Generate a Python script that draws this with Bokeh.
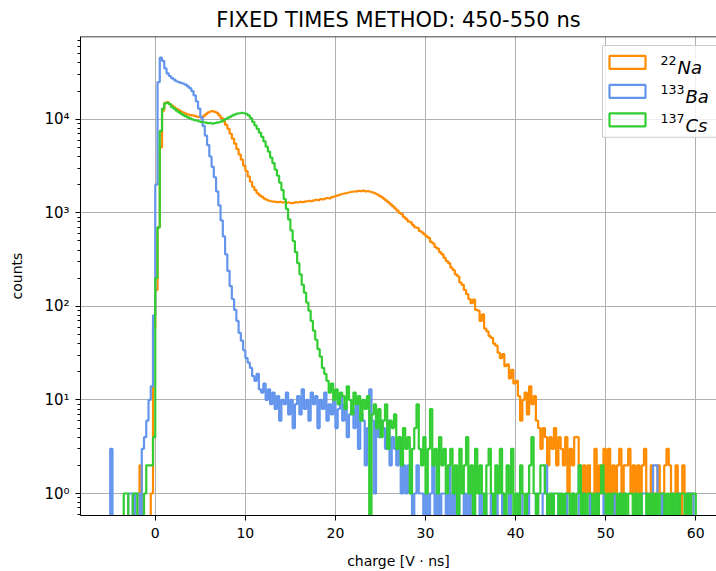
import numpy as np
from bokeh.plotting import figure
from bokeh.models import (Range1d, FixedTicker, CustomJSTickFormatter, Label,
                          BoxAnnotation, Span)
from bokeh.embed import file_html
from bokeh.resources import INLINE

# ---------------- data ----------------
BIN_START = -5.0
BIN_WIDTH = 0.25
N_BINS = 260

TITLE = "FIXED TIMES METHOD: 450-550 ns"
X_LABEL = "charge [V · ns]"
Y_LABEL = "counts"
X_TICKS = [0, 10, 20, 30, 40, 50, 60]
Y_TICKS = [1, 10, 100, 1000, 10000]

SERIES_NAMES = ["Na", "Ba", "Cs"]
SERIES_MASS = ["22", "133", "137"]

na_counts = [
    0, 0, 0, 0, 0, 0, 0, 0, 0, 0, 0, 0, 0, 2, 0, 0, 0, 0, 1, 60,
    150, 700, 5000, 12400, 15000, 15300, 14500, 14000, 13400, 12900, 12500, 12100, 11800, 11500, 11300, 11100, 11000, 10900, 10700, 10600,
    10500, 10800, 11300, 11800, 12100, 12200, 12000, 11700, 11000, 10300, 9500, 8700, 7900, 7000, 6200, 5500, 4800, 4200, 3700, 3200,
    2800, 2450, 2150, 1900, 1750, 1620, 1540, 1480, 1420, 1380, 1350, 1330, 1320, 1310, 1300, 1310, 1290, 1300, 1280, 1290,
    1270, 1280, 1300, 1290, 1310, 1300, 1320, 1330, 1340, 1330, 1360, 1380, 1370, 1400, 1390, 1420, 1440, 1430, 1470, 1490,
    1520, 1550, 1580, 1600, 1620, 1640, 1660, 1680, 1690, 1700, 1720, 1710, 1730, 1700, 1710, 1680, 1660, 1620, 1580, 1530,
    1480, 1420, 1360, 1300, 1240, 1180, 1120, 1060, 1000, 970, 900, 860, 810, 790, 740, 700, 690, 640, 620, 590,
    560, 540, 490, 470, 430, 415, 380, 360, 330, 305, 290, 260, 245, 220, 210, 180, 170, 150, 135, 120,
    108, 118, 92, 90, 70, 82, 58, 54, 48, 46, 40, 38, 32, 28, 31, 23, 24, 17, 21, 15,
    16, 11, 6, 10, 12, 7, 14, 9, 11, 6, 5, 3, 5, 4, 2, 4, 3, 5, 2, 4,
    3, 2, 4, 1, 3, 2, 4, 4, 2, 1, 2, 1, 2, 0, 1, 3, 1, 2, 1, 3,
    1, 3, 1, 2, 0, 2, 3, 1, 2, 2, 3, 1, 2, 0, 2, 1, 2, 3, 1, 0,
    2, 1, 0, 2, 1, 0, 2, 3, 2, 0, 1, 2, 1, 0, 2, 1, 0, 1, 0, 0,
]

ba_counts = [
    3, 0, 0, 0, 0, 0, 0, 0, 1, 1, 0, 1, 1, 0, 3, 4, 6, 10, 14, 80,
    2000, 25000, 45500, 42000, 35000, 31000, 29000, 27500, 26500, 25500, 25000, 24500, 24000, 23500, 22500, 21500, 20000, 18000, 15500, 13000,
    10500, 8500, 6700, 5300, 4000, 3100, 2400, 1700, 1200, 830, 560, 360, 240, 165, 120, 92, 70, 52, 43, 34,
    28, 25, 22, 18, 16, 19, 13, 12, 15, 10, 13, 9, 12, 8, 11, 6, 10, 9, 12, 7,
    10, 5, 9, 11, 7, 13, 8, 10, 6, 12, 9, 11, 5, 10, 8, 12, 6, 9, 7, 10,
    5, 8, 11, 6, 9, 4, 7, 8, 5, 9, 3, 7, 6, 2, 5, 13, 6, 1, 7, 4,
    6, 5, 3, 6, 2, 4, 3, 2, 4, 1, 2, 1, 2, 1, 0, 1, 2, 1, 1, 0,
    1, 0, 1, 2, 0, 1, 0, 1, 1, 0, 2, 0, 1, 0, 1, 0, 0, 1, 0, 1,
    0, 1, 0, 0, 1, 0, 1, 0, 0, 1, 0, 1, 0, 0, 1, 0, 0, 1, 0, 0,
    0, 1, 1, 0, 0, 1, 0, 0, 0, 1, 0, 0, 1, 2, 0, 0, 1, 0, 0, 1,
    0, 0, 1, 0, 0, 1, 0, 0, 2, 1, 0, 0, 0, 1, 0, 0, 1, 0, 0, 1,
    0, 0, 0, 1, 0, 0, 1, 0, 1, 0, 0, 0, 0, 1, 0, 0, 1, 1, 1, 0,
    1, 2, 2, 0, 0, 1, 0, 0, 0, 1, 0, 0, 1, 0, 0, 0, 1, 1, 1, 0,
]

cs_counts = [
    0, 0, 0, 0, 0, 0, 1, 1, 0, 0, 1, 1, 0, 0, 0, 1, 2, 2, 2, 4,
    200, 700, 7500, 13000, 14800, 15000, 14500, 13500, 13000, 12400, 11900, 11500, 11100, 10800, 10500, 10200, 10000, 9800, 9700, 9500,
    9400, 9300, 9200, 9100, 9100, 9000, 9100, 9200, 9300, 9500, 9800, 10100, 10400, 10700, 11000, 11300, 11500, 11600, 11700, 11600,
    11400, 11000, 10300, 9400, 8600, 7900, 7200, 6500, 5800, 5100, 4500, 3900, 3400, 2900, 2500, 2100, 1750, 1400, 1100, 850,
    650, 500, 380, 290, 220, 170, 140, 110, 90, 70, 55, 44, 35, 29, 22, 19, 16, 12, 15, 10,
    13, 9, 12, 11, 8, 14, 10, 7, 12, 9, 11, 6, 10, 8, 11, 0, 7, 9, 5, 8,
    4, 6, 9, 3, 6, 5, 7, 3, 4, 2, 5, 3, 4, 1, 3, 5, 9, 3, 2, 4,
    1, 3, 8, 2, 3, 1, 4, 2, 3, 1, 2, 3, 1, 2, 0, 3, 1, 2, 4, 1,
    2, 0, 3, 1, 2, 1, 0, 2, 3, 1, 0, 2, 1, 3, 1, 0, 2, 1, 3, 0,
    1, 0, 2, 1, 0, 1, 2, 4, 1, 0, 1, 2, 2, 1, 0, 1, 0, 1, 1, 0,
    1, 0, 1, 1, 0, 1, 0, 1, 2, 0, 1, 0, 1, 1, 0, 1, 0, 1, 2, 1,
    0, 1, 0, 1, 1, 0, 1, 0, 1, 0, 1, 1, 0, 1, 0, 1, 0, 0, 1, 0,
    1, 0, 1, 0, 1, 1, 0, 1, 0, 1, 0, 1, 0, 1, 1, 0, 1, 0, 1, 1,
]

COLORS = ["#ff8c00", "#6495ed", "#32cd32"]

# ---------------- layout geometry ----------------
W, H = 716, 571
FL, FR, FT, FB = 80, 716, 36, 516
X0, X1 = -8.3, 62.3
Y0, Y1 = 0.582, 76700.0
FLOOR = 1e-3  # zero-count bins fall below the visible log range


def px2x(px):
    return X0 + (px - FL) / (FR - FL) * (X1 - X0)


def py2y(py):
    l0, l1 = np.log10(Y0), np.log10(Y1)
    return 10 ** (l1 - (py - FT) / (FB - FT) * (l1 - l0))


FONT = "DejaVu Sans"

p = figure(width=W, height=H, y_axis_type="log",
           x_range=Range1d(X0, X1), y_range=Range1d(Y0, Y1),
           output_backend="svg", toolbar_location=None,
           min_border_left=FL, min_border_right=W - FR,
           min_border_top=FT, min_border_bottom=H - FB,
           title=TITLE)
p.background_fill_color = "white"
p.border_fill_color = "white"
p.outline_line_color = None

p.title.text_font = FONT
p.title.text_font_size = "21px"
p.title.text_font_style = "normal"
p.title.align = "center"
p.title.text_color = "black"

# axes
p.xaxis.ticker = FixedTicker(ticks=X_TICKS)
minor = [k * 10.0 ** d for d in range(-1, 5) for k in range(2, 10)]
p.yaxis.ticker = FixedTicker(ticks=Y_TICKS, minor_ticks=minor)
p.yaxis.formatter = CustomJSTickFormatter(code="""
const e = Math.round(Math.log10(tick));
const sup = {"0":"\u2070","1":"\u00b9","2":"\u00b2","3":"\u00b3","4":"\u2074",
             "5":"\u2075","6":"\u2076","7":"\u2077","8":"\u2078","9":"\u2079","-":"\u207b"};
return "10" + String(e).split("").map(c => sup[c]).join("");
""")

for ax in (p.xaxis, p.yaxis):
    ax.axis_line_color = "black"
    ax.axis_line_width = 1
    ax.major_tick_line_color = "black"
    ax.major_tick_line_width = 1
    ax.major_tick_out = 5
    ax.major_tick_in = 0
    ax.major_label_text_font = FONT
    ax.major_label_text_font_size = "14px"
    ax.major_label_text_color = "black"
    ax.axis_label_text_font = FONT
    ax.axis_label_text_font_size = "14px"
    ax.axis_label_text_font_style = "normal"
    ax.axis_label_text_color = "black"

p.yaxis.major_label_text_font_size = "15px"
p.xaxis.minor_tick_line_color = None
p.yaxis.minor_tick_line_color = "black"
p.yaxis.minor_tick_out = 3
p.yaxis.minor_tick_in = 0
p.xaxis.major_label_standoff = 7
p.yaxis.major_label_standoff = 6
p.xaxis.axis_label = X_LABEL
p.yaxis.axis_label = Y_LABEL
p.xaxis.axis_label_standoff = 12
p.yaxis.axis_label_standoff = 16

p.grid.grid_line_color = "#b0b0b0"
p.grid.grid_line_width = 1

# top spine
p.add_layout(Span(location=Y1, dimension="width", line_color="black", line_width=1.5))

# step histograms
edges = BIN_START + BIN_WIDTH * np.arange(N_BINS + 1)
for counts, color in zip([na_counts, ba_counts, cs_counts], COLORS):
    c = np.asarray(counts, dtype=float)
    c[c <= 0] = FLOOR
    xs = np.repeat(edges, 2)
    ys = np.concatenate([[FLOOR], np.repeat(c, 2), [FLOOR]])
    p.line(xs, ys, line_color=color, line_width=2.2)

# legend (drawn by hand to get superscript mass numbers and italic symbols)
p.add_layout(BoxAnnotation(left=px2x(602), right=px2x(730), top=py2y(45), bottom=py2y(137),
                           fill_color="white", fill_alpha=0.8,
                           line_color="#cccccc", line_alpha=1.0, line_width=1,
                           level="annotation"))
row_centers = [62, 91, 119.5]
for name, mass, color, cy in zip(SERIES_NAMES, SERIES_MASS, COLORS, row_centers):
    p.add_layout(BoxAnnotation(left=px2x(609), right=px2x(645),
                               top=py2y(cy - 6.5), bottom=py2y(cy + 6.5),
                               fill_color="white", fill_alpha=0.0,
                               line_color=color, line_alpha=1.0, line_width=2.2,
                               level="annotation"))
    p.add_layout(Label(x=px2x(660), y=py2y(cy - 1.5), text=mass,
                       text_font=FONT, text_font_size="12.6px",
                       text_baseline="alphabetic", text_align="left",
                       text_color="black"))
    p.add_layout(Label(x=px2x(661 + 8.0 * len(mass)), y=py2y(cy + 5.5), text=name,
                       text_font=FONT, text_font_size="18px", text_font_style="italic",
                       text_baseline="alphabetic", text_align="left",
                       text_color="black"))

with open("out.html", "w", encoding="utf-8") as f:
    f.write(file_html(p, INLINE))
